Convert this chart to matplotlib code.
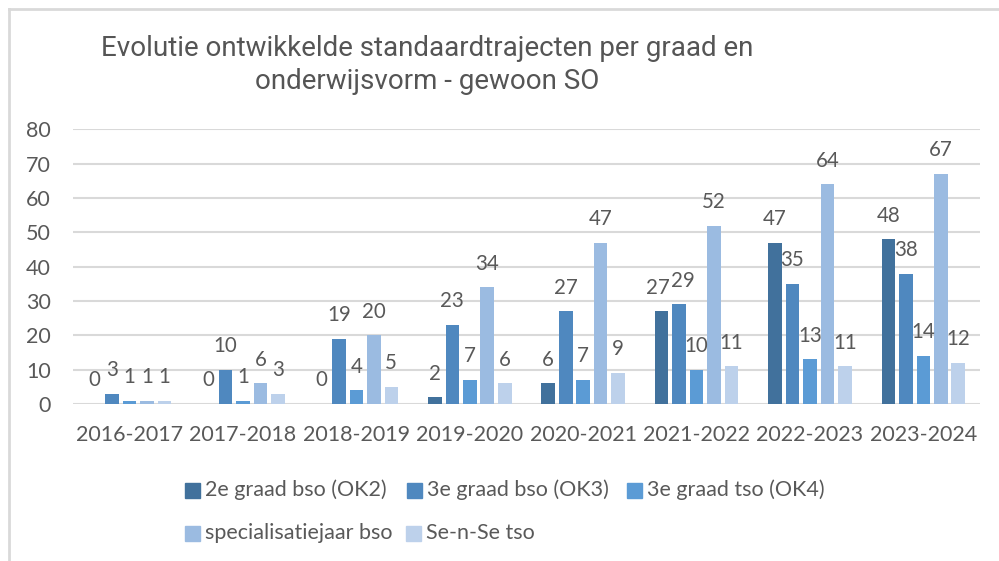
import matplotlib
matplotlib.use("Agg")
import matplotlib.pyplot as plt
from matplotlib.patches import Rectangle
from matplotlib.lines import Line2D
import numpy as np

categories = ["2016-2017", "2017-2018", "2018-2019", "2019-2020", "2020-2021",
              "2021-2022", "2022-2023", "2023-2024"]
series_names = ["2e graad bso (OK2)", "3e graad bso (OK3)", "3e graad tso (OK4)",
                "specialisatiejaar bso", "Se-n-Se tso"]
ok2 = [0, 0, 0, 2, 6, 27, 47, 48]
ok3 = [3, 10, 19, 23, 27, 29, 35, 38]
ok4 = [1, 1, 4, 7, 7, 10, 13, 14]
spec = [1, 6, 20, 34, 47, 52, 64, 67]
sense = [1, 3, 5, 6, 9, 11, 11, 12]
yticks = [0, 10, 20, 30, 40, 50, 60, 70, 80]
title = "Evolutie ontwikkelde standaardtrajecten per graad en\nonderwijsvorm - gewoon SO"

series = [ok2, ok3, ok4, spec, sense]
colors = ["#41719C", "#4F88BF", "#5B9BD5", "#9BBBE1", "#BDD1EB"]
txt = "#595959"
grid = "#D9D9D9"
font = ["Lato", "DejaVu Sans"]
fs = 15.5

fig = plt.figure(figsize=(9.99, 5.61), dpi=100)
ax = fig.add_axes([0.073, 0.2799, 0.981 - 0.073, 0.7692 - 0.2799])

x = np.arange(len(categories))
step = 0.154
width = 0.12
labels = {}
for i, (vals, col) in enumerate(zip(series, colors)):
    xs = x + (i - 2) * step
    ax.bar(xs, vals, width=width, color=col, zorder=3)
    for j, (xi, v) in enumerate(zip(xs, vals)):
        labels[(j, i)] = ax.annotate(str(v), (xi, v), xytext=(0, 17),
                                     textcoords="offset points",
                                     ha="center", va="center", fontsize=14.8,
                                     color=txt, family=font, zorder=4)

ax.set_xlim(-0.5, len(categories) - 0.5)
ax.set_ylim(0, 80)
ax.set_yticks(yticks)
ax.set_xticks(x)
ax.set_xticklabels(categories)
for s in ax.spines.values():
    s.set_visible(False)
ax.grid(axis="y", color=grid, lw=1.5, zorder=0)
ax.tick_params(axis="both", length=0, colors=txt, labelsize=fs)
ax.tick_params(axis="y", pad=16)
ax.tick_params(axis="x", pad=15)
for lab in ax.get_xticklabels() + ax.get_yticklabels():
    lab.set_family(font)

# nudge neighbouring data labels apart where they collide
fig.canvas.draw()
renderer = fig.canvas.get_renderer()
for j in range(len(categories)):
    for i in range(len(series) - 1):
        a, b = labels[(j, i)], labels[(j, i + 1)]
        ea, eb = a.get_window_extent(renderer), b.get_window_extent(renderer)
        if ea.overlaps(eb):
            gap = (ea.x1 - eb.x0) + 2
            pts = gap * 72 / fig.dpi / 2
            a.xyann = (a.xyann[0] - pts, a.xyann[1])
            b.xyann = (b.xyann[0] + pts, b.xyann[1])

fig.text(0.428, 1 - 65 / 561, title, ha="center", va="center", fontsize=20,
         color="#555555", family=["Roboto", "DejaVu Sans"], linespacing=1.3)

# chart border (top and left visible)
fig.add_artist(Line2D([9 / 999, 9 / 999], [0, 1 - 9 / 561], color=grid, lw=2,
                      transform=fig.transFigure))
fig.add_artist(Line2D([9 / 999, 1], [1 - 9 / 561, 1 - 9 / 561], color=grid, lw=2,
                      transform=fig.transFigure))

# legend drawn manually
leg_pos = [(185, 490), (407, 490), (627, 490), (185, 533), (406, 533)]
for name, col, (px, py) in zip(series_names, colors, leg_pos):
    fig.add_artist(Rectangle((px / 999, 1 - (py + 7.5) / 561), 15 / 999, 15 / 561,
                             color=col, transform=fig.transFigure))
    fig.text((px + 20) / 999, 1 - py / 561, name, ha="left", va="center",
             fontsize=fs, color=txt, family=font)

fig.savefig("out.png", dpi=100)
